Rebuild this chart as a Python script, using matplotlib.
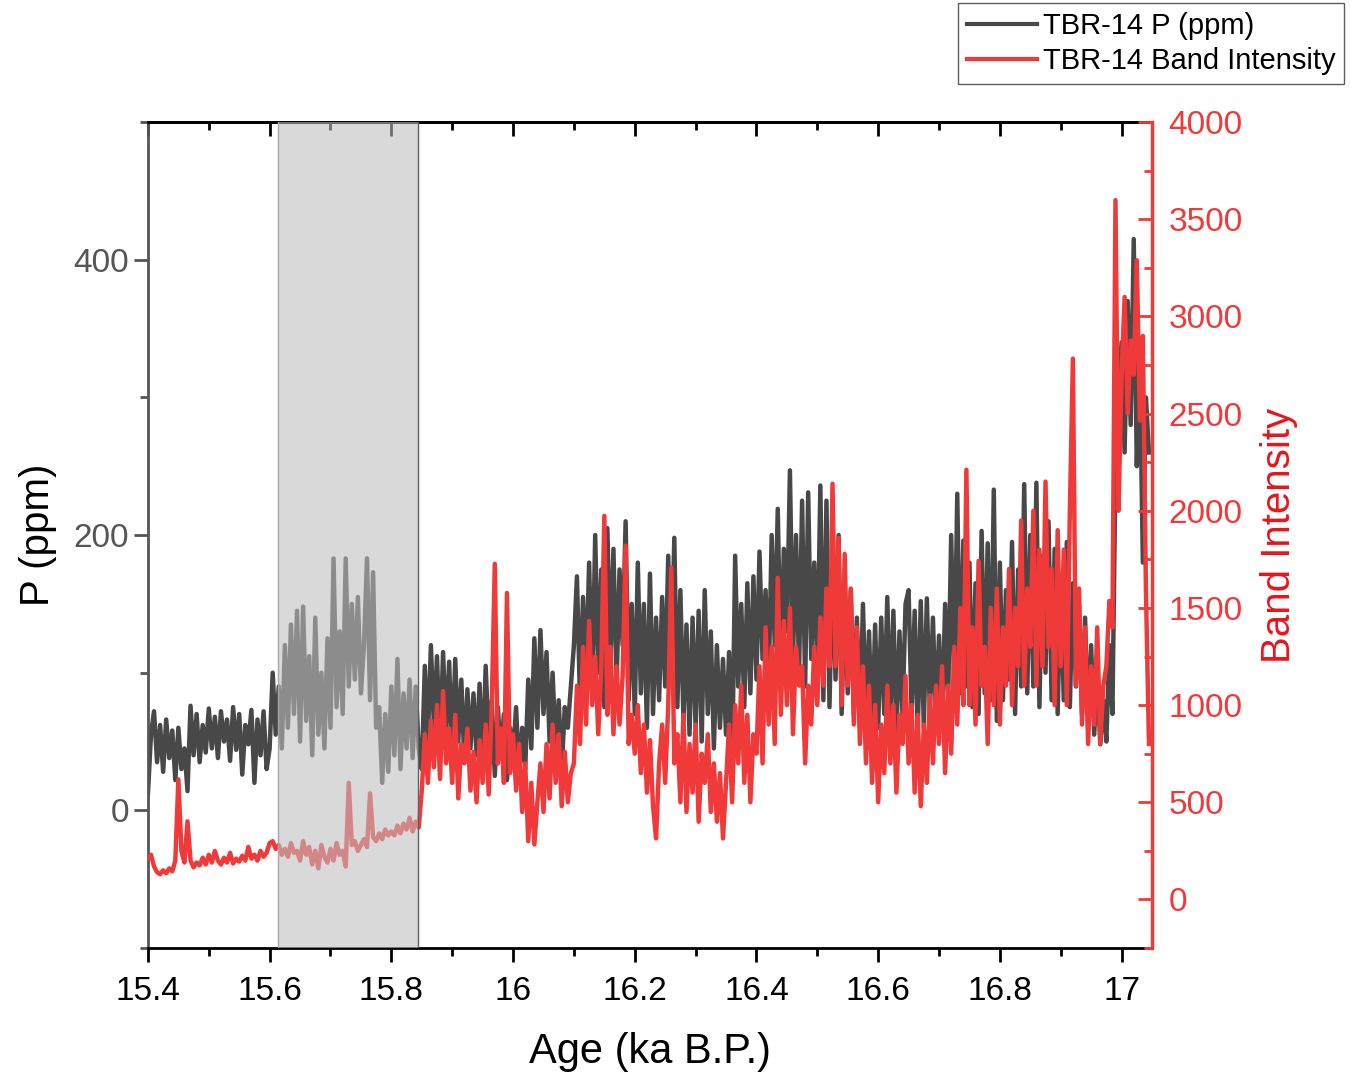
import numpy as np
import matplotlib
matplotlib.use("Agg")
import matplotlib.pyplot as plt
from matplotlib.ticker import MultipleLocator, FuncFormatter

plt.rcParams['font.family'] = ['Liberation Sans', 'DejaVu Sans']

# Age grid (ka B.P.), one sample every 0.005 ka, 15.400 ... 17.045
age = np.round(15.4 + 0.005 * np.arange(330), 3)

# TBR-14 P (ppm), 10 samples per row (0.05 ka)
p_ppm = [
    12, 55, 72, 35, 62, 28, 66, 38, 58, 22,        # 15.40
    60, 30, 45, 14, 76, 40, 70, 35, 62, 42,        # 15.45
    74, 45, 68, 38, 72, 50, 66, 36, 75, 44,        # 15.50
    70, 26, 62, 48, 73, 20, 66, 40, 72, 30,        # 15.55
    45, 100, 55, 90, 45, 120, 60, 135, 70, 145,    # 15.60
    50, 148, 65, 112, 40, 140, 55, 100, 45, 125,   # 15.65
    60, 183, 75, 130, 70, 183, 90, 150, 95, 155,   # 15.70
    85, 120, 183, 80, 173, 60, 75, 20, 70, 28,     # 15.75
    90, 40, 110, 30, 85, 45, 95, 38, 90, 45,       # 15.80
    30, 105, 50, 120, 60, 112, 45, 115, 55, 108,   # 15.85
    40, 110, 50, 95, 35, 88, 45, 85, 40, 92,       # 15.90
    30, 105, 50, 80, 25, 75, 40, 70, 22, 60,       # 15.95
    40, 75, 25, 60, 30, 95, 45, 125, 60, 131,      # 16.00
    70, 115, 50, 100, 45, 80, 30, 75, 60, 90,      # 16.05
    120, 170, 80, 155, 95, 180, 85, 200, 100, 175, # 16.10
    75, 205, 110, 190, 90, 175, 120, 210, 80, 150, # 16.15
    70, 180, 85, 150, 60, 172, 70, 140, 80, 155,   # 16.20
    90, 185, 100, 198, 75, 160, 65, 135, 55, 140,  # 16.25
    60, 145, 50, 160, 70, 130, 45, 120, 60, 110,   # 16.30
    55, 115, 30, 185, 90, 150, 75, 165, 85, 170,   # 16.35
    95, 188, 110, 160, 90, 200, 120, 219, 100, 190,    # 16.40
    130, 247, 110, 200, 100, 225, 90, 231, 110, 180,   # 16.45
    100, 236, 80, 225, 75, 180, 95, 200, 70, 160,  # 16.50
    85, 160, 70, 140, 60, 150, 65, 130, 55, 135,   # 16.55
    60, 140, 70, 155, 65, 145, 55, 130, 70, 150,   # 16.60
    160, 70, 145, 55, 152, 60, 154, 70, 140, 65,   # 16.65
    127, 60, 150, 80, 200, 90, 230, 85, 196, 90,   # 16.70
    180, 75, 165, 70, 203, 85, 194, 80, 233, 65,   # 16.75
    180, 80, 160, 95, 195, 70, 175, 90, 237, 85,   # 16.80
    200, 90, 238, 75, 185, 100, 210, 80, 190, 70,  # 16.85
    170, 80, 195, 75, 165, 90, 150, 70, 140, 60,   # 16.90
    120, 55, 100, 48, 80, 50, 120, 70, 250, 300,   # 16.95
    340, 260, 370, 280, 415, 250, 320, 180, 300, 260,  # 17.00
]

# TBR-14 band intensity, same age grid
band = [
    210, 230, 170, 140, 130, 150, 135, 160, 145, 200,      # 15.40
    618, 250, 190, 402, 200, 165, 190, 175, 215, 180,      # 15.45
    230, 190, 250, 200, 180, 215, 190, 240, 185, 210,      # 15.50
    195, 225, 200, 270, 210, 230, 200, 250, 220, 240,      # 15.55
    290, 300, 260, 280, 230, 260, 220, 290, 240, 250,      # 15.60
    200, 300, 230, 270, 180, 250, 160, 280, 220, 190,      # 15.65
    260, 200, 290, 230, 250, 170, 600, 280, 300, 250,      # 15.70
    280, 310, 270, 546, 320, 300, 340, 310, 360, 330,      # 15.75
    350, 330, 380, 340, 390, 360, 420, 350, 400, 370,      # 15.80
    560, 850, 600, 920, 680, 1000, 620, 1072, 700, 880,    # 15.85
    600, 950, 520, 800, 700, 880, 560, 760, 500, 820,      # 15.90
    600, 900, 540, 1000, 1727, 700, 880, 600, 1577, 650,   # 15.95
    850, 560, 800, 450, 700, 300, 600, 283, 500, 700,      # 16.00
    450, 800, 520, 900, 600, 850, 480, 760, 500, 650,      # 16.05
    700, 1100, 800, 1300, 900, 1433, 1000, 1250, 850, 1200,    # 16.10
    1974, 950, 1300, 850, 1200, 900, 1150, 1820, 800, 950,     # 16.15
    750, 1000, 650, 900, 550, 820, 480, 314, 700, 900,     # 16.20
    600, 1000, 1706, 700, 850, 500, 950, 450, 800, 550,    # 16.25
    900, 400, 750, 600, 850, 450, 700, 400, 650, 314,      # 16.30
    600, 900, 500, 1000, 700, 1100, 600, 950, 500, 850,    # 16.35
    750, 1200, 700, 1400, 900, 1300, 800, 1655, 950, 1433,     # 16.40
    1000, 1500, 850, 1300, 1100, 1200, 700, 1100, 900, 1300,   # 16.45
    1000, 1450, 1100, 1600, 1200, 2139, 1200, 1860, 1000, 1778,  # 16.50
    1100, 1600, 900, 1400, 800, 1200, 700, 1100, 600, 1000,   # 16.55
    500, 900, 650, 1100, 700, 1000, 550, 950, 800, 1150,      # 16.60
    700, 1000, 550, 950, 480, 900, 600, 1050, 700, 1100,      # 16.65
    800, 1200, 650, 1100, 750, 1300, 900, 1500, 1000, 2211,   # 16.70
    1000, 1400, 900, 1742, 1100, 1300, 800, 1500, 1000, 1600,   # 16.75
    900, 1400, 1100, 1700, 1000, 1500, 1200, 1950, 1100, 1600,  # 16.80
    1300, 2000, 1100, 1800, 1200, 2150, 1300, 1700, 1000, 1900, # 16.85
    1200, 1800, 1000, 2000, 2783, 1100, 1600, 900, 1400, 800,   # 16.90
    1200, 900, 1400, 804, 1100, 1200, 1536, 1400, 3598, 2000,   # 16.95
    2700, 3100, 2500, 2876, 2700, 3289, 2464, 2900, 1600, 800,  # 17.00
]

# shaded interval
shade = (15.613, 15.843)

grey = '#484848'
red = '#f03a3a'

fig = plt.figure(figsize=(13.51, 10.82), dpi=100)
ax = fig.add_axes([0.1095, 0.1238, 0.7432, 0.7634])
ax2 = ax.twinx()

l1, = ax.plot(age, p_ppm, color=grey, lw=3.2)
l2, = ax2.plot(age, band, color=red, lw=3.2)

# grey band drawn over both curves so they look faded inside it
ax2.axvspan(shade[0], shade[1], facecolor=(0.745, 0.745, 0.745), alpha=0.58,
            lw=0, zorder=5)
ax2.axvline(shade[0], color='#a8a8a8', lw=1, zorder=6)
ax2.axvline(shade[1], color='#606060', lw=1, zorder=6)

ax.set_xlim(15.4, 17.05)
ax.set_ylim(-100, 500)
ax2.set_ylim(-250, 4000)

# x axis
ax.xaxis.set_major_locator(MultipleLocator(0.2))
ax.xaxis.set_minor_locator(MultipleLocator(0.1))
ax.xaxis.set_major_formatter(FuncFormatter(lambda v, p: f'{round(v, 1):g}'))
ax.tick_params(axis='x', which='both', top=False, bottom=True, direction='out',
               labelsize=24, colors='black', width=2, pad=10)
ax.tick_params(axis='x', which='major', length=10)
ax.tick_params(axis='x', which='minor', length=6)
top = ax.secondary_xaxis('top')
top.xaxis.set_major_locator(MultipleLocator(0.2))
top.xaxis.set_minor_locator(MultipleLocator(0.1))
top.tick_params(axis='x', which='both', direction='in', labeltop=False, width=2)
top.tick_params(axis='x', which='major', length=10)
top.tick_params(axis='x', which='minor', length=6)
top.spines['top'].set_linewidth(2)

# left axis
ax.set_yticks([0, 200, 400])
ax.yaxis.set_minor_locator(MultipleLocator(100))
ax.tick_params(axis='y', which='both', direction='out', labelsize=24,
               colors='#555555', width=2)
ax.tick_params(axis='y', which='major', length=10)
ax.tick_params(axis='y', which='minor', length=6)

# right axis
ax2.yaxis.set_major_locator(MultipleLocator(500))
ax2.yaxis.set_minor_locator(MultipleLocator(250))
ax2.tick_params(axis='y', which='both', direction='in', labelsize=24,
                colors=red, width=2, pad=12)
ax2.tick_params(axis='y', which='major', length=10)
ax2.tick_params(axis='y', which='minor', length=6)

for s in ['top', 'bottom']:
    ax.spines[s].set_color('black')
    ax.spines[s].set_linewidth(2)
ax.spines['left'].set_color('#555555')
ax.spines['left'].set_linewidth(2)
ax.spines['right'].set_visible(False)
for s in ['top', 'bottom', 'left']:
    ax2.spines[s].set_visible(False)
ax2.spines['right'].set_color(red)
ax2.spines['right'].set_linewidth(2.5)

ax.set_xlabel('Age (ka B.P.)', fontsize=30, labelpad=18)
ax.set_ylabel('P (ppm)', fontsize=29, labelpad=12)
ax2.set_ylabel('Band Intensity', fontsize=29, color='#e8141b', labelpad=12)

leg = fig.legend([l1, l2], ['TBR-14 P (ppm)', 'TBR-14 Band Intensity'],
                 loc='upper right', bbox_to_anchor=(0.9948, 0.9972),
                 fontsize=21, frameon=True, fancybox=False, edgecolor='#333333',
                 handlelength=2.4, handletextpad=0.2, borderpad=0.3,
                 labelspacing=0.25, borderaxespad=0)
leg.get_frame().set_linewidth(1)
for h in leg.get_lines():
    h.set_linewidth(3)

fig.savefig('out.png', dpi=100)
